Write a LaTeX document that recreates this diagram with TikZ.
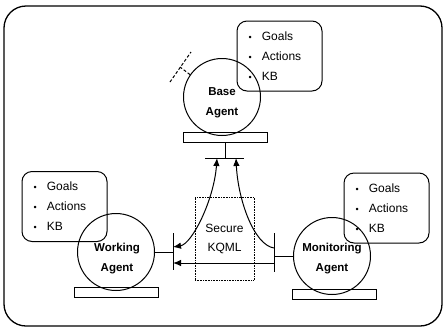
\documentclass[tikz,border=0pt]{standalone}
\usepackage{fontspec}
\setmainfont{Liberation Sans}
\usetikzlibrary{arrows.meta, positioning, calc}

% bullet list shown in each knowledge box
\newcommand{\kbitems}{\fontsize{12}{20}\selectfont
  \begin{tabular}{@{}l@{\hspace{10pt}}l@{}}
    {\fontsize{9}{9}\selectfont\textbullet} & Goals\\
    {\fontsize{9}{9}\selectfont\textbullet} & Actions\\
    {\fontsize{9}{9}\selectfont\textbullet} & KB
  \end{tabular}}

\begin{document}
\begin{tikzpicture}[x=1pt, y=-1pt,
    agent/.style={circle, draw, line width=1pt, minimum size=77pt, inner sep=0pt},
    agentlabel/.style={align=center, inner sep=0pt, font=\fontsize{11.5}{20}\selectfont\bfseries},
    kbbox/.style={rectangle, draw, rounded corners=10pt, line width=1pt, minimum width=85pt, minimum height=70pt},
    bar/.style={rectangle, draw, line width=1pt, minimum width=84pt, minimum height=10pt, inner sep=0pt},
    port/.style={line width=1pt},
    kqml/.style={rectangle, draw, densely dotted, line width=0.6pt, minimum width=59pt, minimum height=83pt, align=center, font=\fontsize{12}{19}\selectfont},
    msg/.style={-{Latex[length=8pt,width=6.5pt]}, line width=1pt},
    dmsg/.style={{Latex[length=8pt,width=6.5pt]}-{Latex[length=8pt,width=6.5pt]}, line width=1pt}
]
\useasboundingbox (0,0) rectangle (443,327);
\draw[line width=1.3pt, rounded corners=22pt] (4,6) rectangle (442,326);

% secure channel
\node[kqml] (kqml) at (224.5,238.5) {Secure\\KQML};

% agents
\node[agent] (base) at (222,97) {};
\node[agentlabel] (baselabel) at (222,103) {Base\\Agent};
\node[agent] (working) at (116,252) {};
\node[agentlabel] (workinglabel) at (117,259) {Working\\Agent};
\node[agent] (monitoring) at (332,256) {};
\node[agentlabel] (monitoringlabel) at (332,259) {Monitoring\\Agent};

% knowledge boxes
\node[kbbox] (basebox) at (279.5,56) {};
\node[anchor=west, inner sep=0pt] (baseitems) at ([xshift=12pt]basebox.west) {\kbitems};
\node[kbbox] (workingbox) at (64.5,206.5) {};
\node[anchor=west, inner sep=0pt] (workingitems) at ([xshift=12pt]workingbox.west) {\kbitems};
\node[kbbox] (monitoringbox) at (386.5,208) {};
\node[anchor=west, inner sep=0pt] (monitoringitems) at ([xshift=12pt]monitoringbox.west) {\kbitems};

% platforms
\node[bar] (basebar) at (225,137.5) {};
\node[bar] (workingbar) at (116.5,292) {};
\node[bar] (monitoringbar) at (334,294.5) {};

% interfaces
\coordinate (bstem) at (225,158);
\coordinate (bl) at (205,158);
\coordinate (br) at (244,158);
\draw[port] (basebar.south -| bstem) -- (bstem);
\draw[port] (bl) -- (br);

\coordinate (wtop) at (173,233);
\coordinate (wbot) at (173,270);
\draw[port] (wtop) -- (wbot);
\draw[port] (working.east) -- (working.east -| wtop);

\coordinate (mtop) at (274,233);
\coordinate (mbot) at (274,272);
\draw[port] (mtop) -- (mbot);
\draw[port] (monitoring.west) -- (monitoring.west -| mtop);

% unused interface
\coordinate (ustem) at (180,67);
\coordinate (ua) at (170,82);
\coordinate (ub) at (191,52);
\draw[port, dash pattern=on 3pt off 2pt] (base.145) -- (ustem);
\draw[port, dash pattern=on 3pt off 2pt] (ua) -- (ub);

% messages
\coordinate (wp1) at (173,247);
\coordinate (wp2) at (173,263);
\coordinate (mp1) at (274,248);
\coordinate (mp2) at (274,263);
\coordinate (bp1) at (217,158);
\coordinate (bp2) at (236,158);
\draw[dmsg] (wp1) .. controls (192,244) and (214,200) .. (bp1);
\draw[msg] (mp1) .. controls (254,245) and (238,200) .. (bp2);
\draw[msg] (mp2) -- (wp2);
\end{tikzpicture}
\end{document}
